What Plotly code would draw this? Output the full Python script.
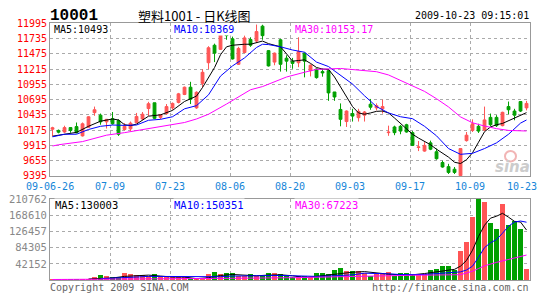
import plotly.graph_objects as go

# ---------------- data ----------------
idx = list(range(80))
opens = [10190, 10170, 10143, 10218, 10235, 10077, 10224, 10473, 10430, 10316,
         10370, 10338, 10186, 10197, 10300, 10365, 10543, 10641, 10392, 10457,
         10554, 10646, 10782, 10906, 10554, 10971, 11323, 11621, 11551, 11827,
         11730, 11296, 11497, 11719, 11692, 11946, 11529, 11334, 11714, 11400,
         11350, 11323, 11486, 11188, 11215, 11172, 11188, 10825, 10527, 10321,
         10457, 10387, 10430, 10617, 10554, 10538, 10132, 10229, 10240, 10267,
         10132, 9880, 9818, 9958, 9807, 9623, 9553, 9509, 9400, 9996,
         10170, 10240, 10175, 10392, 10392, 10251, 10576, 10500, 10662, 10554]
highs = [10232, 10185, 10250, 10225, 10305, 10305, 10413, 10576, 10457, 10365,
         10484, 10359, 10294, 10321, 10468, 10484, 10657, 10641, 10446, 10619,
         10646, 10809, 10917, 10998, 10836, 11214, 11605, 11648, 11970, 11854,
         11768, 11594, 11784, 11757, 11973, 11970, 11540, 11497, 11730, 11450,
         11405, 11757, 11497, 11296, 11225, 11225, 11215, 10825, 10630, 10511,
         10538, 10538, 10500, 10706, 10630, 10695, 10251, 10251, 10262, 10283,
         10159, 9990, 9970, 9996, 9861, 9655, 9601, 9547, 9861, 10143,
         10359, 10283, 10576, 10457, 10430, 10489, 10662, 10538, 10662, 10673]
lows = [10070, 10120, 10130, 10130, 10120, 10066, 10213, 10419, 10267, 10202,
        10267, 10077, 10170, 10159, 10294, 10349, 10419, 10365, 10360, 10440,
        10522, 10630, 10771, 10619, 10538, 10901, 11214, 11334, 11540, 11714,
        11377, 11285, 11486, 11594, 11659, 11714, 11258, 11280, 11172, 11172,
        11220, 11247, 11074, 11090, 11052, 11085, 10674, 10674, 10240, 10229,
        10321, 10321, 10321, 10522, 10511, 10457, 10078, 10089, 10105, 10132,
        9904, 9818, 9807, 9834, 9672, 9536, 9428, 9428, 9390, 9980,
        10143, 10127, 10159, 10240, 10229, 10240, 10446, 10343, 10484, 10511]
closes = [10215, 10140, 10218, 10170, 10130, 10283, 10402, 10522, 10316, 10359,
          10283, 10104, 10240, 10294, 10408, 10446, 10625, 10376, 10440, 10576,
          10630, 10793, 10906, 10701, 10820, 11160, 11578, 11486, 11838, 11784,
          11388, 11567, 11746, 11621, 11854, 11784, 11269, 11486, 11296, 11350,
          11312, 11513, 11350, 11280, 11069, 11150, 10809, 10739, 10359, 10500,
          10414, 10495, 10484, 10565, 10592, 10576, 10140, 10132, 10159, 10143,
          9915, 9888, 9915, 9850, 9688, 9547, 9455, 9455, 9861, 10089,
          10283, 10159, 10349, 10267, 10251, 10478, 10522, 10430, 10500, 10630]
volumes = [3000, 2500, 3000, 2500, 2500, 3000, 4000, 8700, 13700, 11200,
           7000, 7900, 19500, 16200, 13700, 13700, 11200, 17000, 7900, 7900,
           7000, 7900, 7900, 5400, 3700, 2900, 16200, 21200, 16200, 18700,
           18700, 11200, 12000, 16200, 12000, 12000, 18700, 18700, 16200, 12000,
           7000, 9600, 11200, 7000, 18700, 18700, 16200, 26200, 31200, 23700,
           23700, 23700, 19500, 12000, 16200, 16200, 22000, 12000, 18700, 18700,
           15400, 16200, 16200, 26200, 28700, 36200, 36200, 26200, 76100, 98500,
           163400, 210762, 203300, 148400, 133400, 198300, 143400, 153400, 133400, 28700]

# moving-average lines (index, value)
ma5_x = [0, 2, 4, 6, 8, 10, 11, 12, 13, 14, 16, 18, 20, 22, 23, 24, 25, 26, 27, 28,
         29, 30, 31, 32, 33, 34, 35, 36, 37, 38, 39, 40, 41, 42, 43, 44, 45, 46, 47, 48,
         49, 50, 51, 52, 53, 54, 55, 56, 57, 58, 59, 60, 61, 62, 63, 64, 65, 66, 67, 68,
         69, 70, 71, 72, 73, 74, 75, 76, 77, 78, 79]
ma5_y = [10072, 10105, 10137, 10240, 10327, 10365, 10348, 10267, 10251, 10278, 10413, 10435,
         10511, 10663, 10706, 10755, 10901, 11074, 11240, 11460, 11594, 11621, 11632, 11638,
         11638, 11659, 11692, 11648, 11627, 11594, 11475, 11350, 11361, 11372, 11312, 11242,
         11215, 11210, 11080, 10917, 10738, 10576, 10468, 10446, 10468, 10495, 10500, 10468,
         10381, 10289, 10197, 10105, 10040, 9980, 9926, 9850, 9780, 9715, 9628, 9606, 9671,
         9790, 9969, 10148, 10229, 10267, 10289, 10338, 10386, 10430, 10473]
ma10_x = [0, 2, 4, 6, 8, 10, 12, 14, 16, 18, 20, 22, 24, 26, 28, 30, 32, 34, 35, 36, 38,
          40, 42, 44, 46, 48, 50, 52, 54, 56, 58, 60, 62, 64, 66, 68, 70, 72, 74, 76, 78, 79]
ma10_y = [10061, 10105, 10105, 10186, 10240, 10262, 10256, 10262, 10343, 10359, 10403,
          10538, 10592, 10776, 11096, 11269, 11405, 11583, 11638, 11632, 11594, 11540,
          11502, 11334, 11258, 11107, 10960, 10760, 10576, 10468, 10403, 10370, 10240,
          10078, 9861, 9763, 9780, 9861, 9958, 10105, 10294, 10348]
ma30_x = [0, 1, 5, 9, 12, 16, 19, 22, 24, 26, 29, 31, 33, 35, 37, 39, 42, 44, 48, 52,
          54, 56, 58, 60, 62, 64, 66, 68, 70, 72, 74, 76, 79]
ma30_y = [9904, 9926, 9980, 10089, 10132, 10197, 10251, 10305, 10365, 10446, 10619,
          10738, 10863, 10917, 10998, 11080, 11161, 11210, 11225, 11190, 11170, 11115,
          11025, 10935, 10835, 10710, 10570, 10400, 10300, 10245, 10200, 10170, 10160]

vma5_x = [6, 8, 10, 12, 14, 16, 18, 20, 22, 24, 26, 28, 30, 32, 34, 36, 38, 40, 42, 44,
          46, 48, 50, 52, 54, 56, 58, 60, 62, 64, 66, 67, 68, 69, 70, 71, 72, 73, 74, 75,
          76, 77, 78, 79]
vma5_y = [2900, 4600, 5400, 9600, 11200, 12900, 10400, 7900, 7900, 3700, 6200, 12000,
          14500, 12000, 11200, 12900, 13700, 11200, 7000, 9600, 12900, 17900, 20400,
          22000, 17900, 15400, 13700, 13700, 17000, 21200, 24500, 27900, 36200, 51100,
          77700, 113500, 142600, 160900, 165900, 173400, 163400, 152600, 150900, 130003]
vma10_x = [8, 10, 12, 14, 16, 18, 20, 22, 24, 26, 28, 30, 32, 34, 36, 38, 40, 42, 44, 46,
           48, 50, 52, 54, 56, 58, 60, 62, 64, 66, 68, 69, 70, 71, 72, 73, 74, 75, 76, 77,
           78, 79]
vma10_y = [3700, 4600, 6200, 7900, 9600, 9600, 8700, 7900, 7900, 7900, 8700, 10400,
           11200, 12000, 12000, 12000, 11200, 9600, 9600, 10400, 12000, 13700, 17900,
           17900, 16200, 14500, 14500, 14500, 17000, 18700, 21200, 26200, 36200, 59400,
           84400, 96900, 105200, 121800, 140100, 150900, 153400, 150351]
vma30_x = [0, 10, 20, 30, 40, 48, 52, 60, 68, 69, 70, 71, 72, 74, 76, 78, 79]
vma30_y = [1500, 2100, 2900, 4600, 6200, 9000, 11500, 12500, 14000, 18000, 23000, 30000,
           37000, 46000, 54000, 62000, 65000]

price_ticks = [9395, 9655, 9915, 10175, 10435, 10695, 10955, 11215, 11475, 11735, 11995]
vol_ticks = [42152, 84305, 126457, 168610, 210762]
date_labels = ["09-06-26", "07-09", "07-23", "08-06", "08-20", "09-03", "09-17", "10-09", "10-23"]
date_pos = [-0.42, 9.58, 19.58, 29.58, 39.58, 49.58, 59.58, 69.58, 78.25]
grid_pos = [9.58, 19.58, 29.58, 39.58, 49.58, 59.58, 69.58]

# ---------------- styling ----------------
W, H = 545, 300
RED = "#ff5555"
GREEN = "#00a000"
MONO = "DejaVu Sans Mono"
GRID = "#aaaaaa"
BOX = "#999999"

def px(x):
    return x / W

def py(y):
    return 1 - y / H

fig = go.Figure()

fig.add_trace(go.Candlestick(
    x=idx, open=opens, high=highs, low=lows, close=closes,
    increasing=dict(line=dict(color=RED, width=1), fillcolor=RED),
    decreasing=dict(line=dict(color=GREEN, width=1), fillcolor=GREEN),
    whiskerwidth=0, xaxis="x", yaxis="y", hoverinfo="skip", showlegend=False))

for xs, ys, col in [(ma5_x, ma5_y, "#000000"), (ma10_x, ma10_y, "#0000ff"), (ma30_x, ma30_y, "#ff00ff")]:
    fig.add_trace(go.Scatter(x=xs, y=ys, mode="lines", line=dict(color=col, width=1),
                             xaxis="x", yaxis="y", hoverinfo="skip", showlegend=False))

vol_colors = [RED if c > o else GREEN for o, c in zip(opens, closes)]
fig.add_trace(go.Bar(x=idx, y=volumes, width=0.83, marker=dict(color=vol_colors, line=dict(width=0)),
                     xaxis="x2", yaxis="y2", hoverinfo="skip", showlegend=False))
for xs, ys, col in [(vma5_x, vma5_y, "#000000"), (vma10_x, vma10_y, "#0000ff"), (vma30_x, vma30_y, "#ff00ff")]:
    fig.add_trace(go.Scatter(x=xs, y=ys, mode="lines", line=dict(color=col, width=1),
                             xaxis="x2", yaxis="y2", hoverinfo="skip", showlegend=False))

xdom = [px(50), px(530)]
xcommon = dict(domain=xdom, range=[-0.42, 79.58], tickvals=grid_pos, showticklabels=False,
               showgrid=True, gridcolor=GRID, griddash="dot", gridwidth=1, zeroline=False,
               showline=True, mirror=True, linecolor=BOX, linewidth=1, ticks="", fixedrange=True)

fig.update_layout(
    width=W, height=H, margin=dict(l=0, r=0, t=0, b=0),
    paper_bgcolor="white", plot_bgcolor="white", showlegend=False,
    boxgap=0.33, bargap=0,
    xaxis=dict(anchor="y", rangeslider=dict(visible=False), **xcommon),
    xaxis2=dict(anchor="y2", matches="x", **xcommon),
    yaxis=dict(domain=[py(177), py(18)], range=[9395, 11995], tickvals=price_ticks,
               ticktext=[str(v) for v in price_ticks], ticks="",
               tickfont=dict(family=MONO, size=10, color="#ff0000"),
               showgrid=True, gridcolor=GRID, griddash="dot", zeroline=False,
               showline=True, mirror=True, linecolor=BOX, linewidth=1, anchor="x"),
    yaxis2=dict(domain=[py(285.5), py(201)], range=[0, 210762], tickvals=vol_ticks,
                ticktext=[str(v) for v in vol_ticks], ticks="",
                tickfont=dict(family=MONO, size=10.5, color="#888888"),
                showgrid=True, gridcolor=GRID, griddash="dot", zeroline=False,
                showline=True, mirror=True, linecolor=BOX, linewidth=1, anchor="x2"),
)

ann = []

def text(x, y, s, color="#000000", size=10, anchor="left", family=MONO, bg=None, bold=False):
    d = dict(x=px(x), y=py(y), xref="paper", yref="paper", text=("<b>%s</b>" % s if bold else s),
             showarrow=False, xanchor=anchor, yanchor="middle",
             font=dict(family=family, size=size, color=color), borderpad=0)
    if bg:
        d["bgcolor"] = bg
    ann.append(d)

# header
text(49, 10, "10001", size=16, family="Liberation Mono", bold=True)
text(137, 10, "塑料1001 - 日K线图", size=13, family="Noto Sans CJK SC")
text(530, 10, "2009-10-23 09:15:01", size=10, anchor="right")

# price MA labels
text(53, 24, "MA5:10493", "#000000", bg="white")
text(173, 24, "MA10:10369", "#0000ff", bg="white")
text(294, 24, "MA30:10153.17", "#ff00ff", bg="white")

# volume MA labels
text(54, 207, "MA5:130003", "#000000", size=10.5, bg="white")
text(173, 207, "MA10:150351", "#0000ff", size=10.5, bg="white")
text(294, 207, "MA30:67223", "#ff00ff", size=10.5, bg="white")

# dates
for lab, pos in zip(date_labels, date_pos):
    ann.append(dict(x=pos, y=py(188.5), xref="x", yref="paper", text=lab, showarrow=False,
                    xanchor="center", yanchor="middle",
                    font=dict(family=MONO, size=10, color="#1585d8")))

# footer
text(49, 293, "Copyright 2009 SINA.COM", "#666666", size=10)
text(530, 293, "http://finance.sina.com.cn", "#666666", size=10, anchor="right")

# watermark
text(512, 168, "<i>sina</i>", "#cccccc", size=15, anchor="center", family="DejaVu Sans", bold=True)

fig.update_layout(annotations=ann)
fig.add_shape(type="circle", xref="paper", yref="paper",
              x0=px(505), x1=px(516), y0=py(162), y1=py(151),
              line=dict(color="#f2b5b5", width=2))

fig.write_html("out.html")
